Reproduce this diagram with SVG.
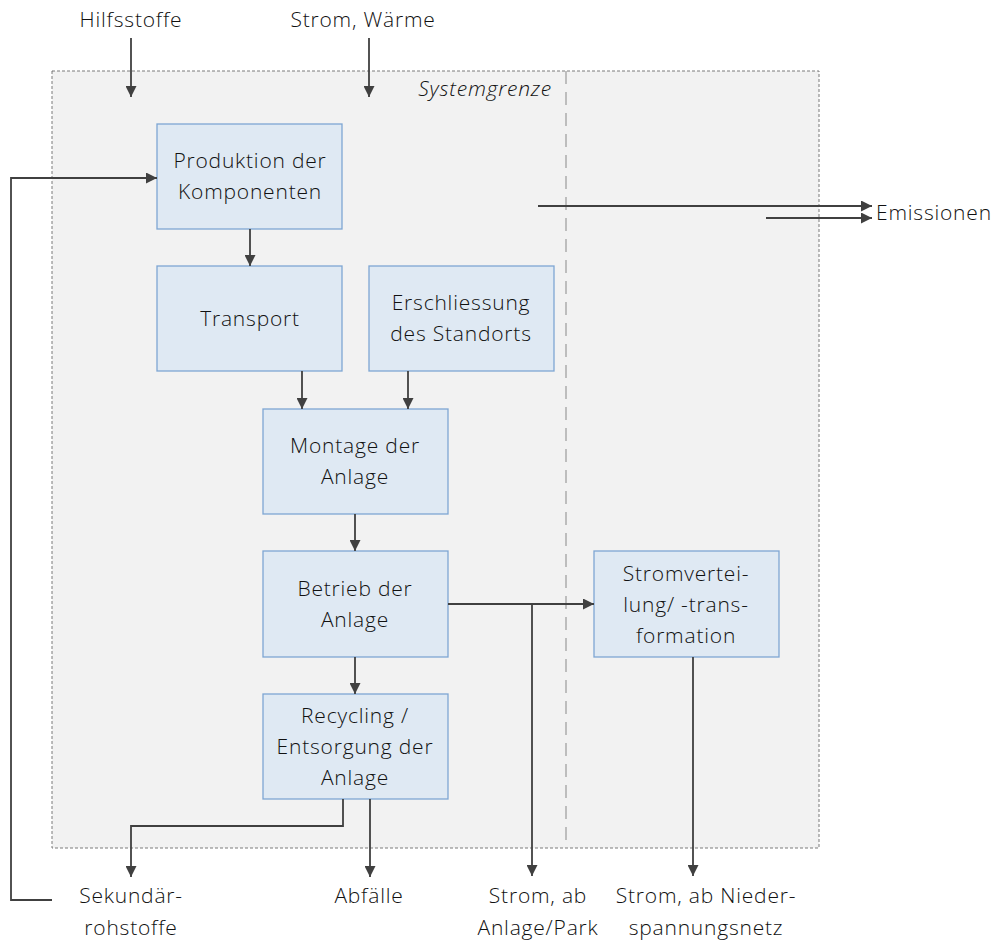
<svg xmlns="http://www.w3.org/2000/svg" width="996" height="940" viewBox="0 0 996 940">
<style>
text{font-family:"Open Sans","Noto Sans","Liberation Sans",sans-serif;font-size:21px;fill:#111;font-weight:300;letter-spacing:0.8px;text-anchor:middle}
.box{fill:#dfe9f3;stroke:#7ea6d3;stroke-width:1.3}
.c{fill:none;stroke:#404040;stroke-width:1.8}
</style>
<defs>
<marker id="a" viewBox="0 0 10 10" refX="10" refY="5" markerWidth="11" markerHeight="11" markerUnits="userSpaceOnUse" orient="auto"><path d="M0,0L10,5L0,10z" fill="#404040"/></marker>
</defs>
<rect width="996" height="940" fill="#fff"/>
<g id="systemgrenze">
<rect x="52" y="71" width="767" height="777" fill="#f2f2f2" stroke="#7a7a7a" stroke-width="1" stroke-dasharray="3,2"/>
<line x1="566" y1="71" x2="566" y2="848" stroke="#bdbdbd" stroke-width="2" stroke-dasharray="13,8"/>
<text x="552" y="96" style="font-style:italic;text-anchor:end">Systemgrenze</text>
</g>
<g id="n1"><rect class="box" x="157" y="124" width="185" height="105"/><text x="250" y="168">Produktion der</text><text x="250" y="199">Komponenten</text></g>
<g id="n2"><rect class="box" x="157" y="266" width="185" height="105"/><text x="250" y="326">Transport</text></g>
<g id="n3"><rect class="box" x="369" y="266" width="185" height="105"/><text x="461" y="310">Erschliessung</text><text x="461" y="341">des Standorts</text></g>
<g id="n4"><rect class="box" x="263" y="409" width="185" height="105"/><text x="355" y="453">Montage der</text><text x="355" y="484">Anlage</text></g>
<g id="n5"><rect class="box" x="263" y="551" width="185" height="106"/><text x="355" y="596">Betrieb der</text><text x="355" y="627">Anlage</text></g>
<g id="n6"><rect class="box" x="263" y="694" width="185" height="105"/><text x="355" y="723">Recycling /</text><text x="355" y="754">Entsorgung der</text><text x="355" y="785">Anlage</text></g>
<g id="n7"><rect class="box" x="594" y="551" width="185" height="106"/><text x="686" y="581">Stromvertei-</text><text x="686" y="612">lung/ -trans-</text><text x="686" y="643">formation</text></g>
<g id="labels">
<text x="131" y="27">Hilfsstoffe</text>
<text x="363" y="27">Strom, Wärme</text>
<text x="876" y="220" style="text-anchor:start">Emissionen</text>
<text x="131" y="903">Sekundär-</text><text x="131" y="935">rohstoffe</text>
<text x="369" y="903">Abfälle</text>
<text x="538" y="903">Strom, ab</text><text x="538" y="935">Anlage/Park</text>
<text x="706" y="903">Strom, ab Nieder-</text><text x="706" y="935">spannungsnetz</text>
</g>
<g id="connectors">
<path class="c" d="M131,38V97" marker-end="url(#a)"/>
<path class="c" d="M369,38V97" marker-end="url(#a)"/>
<path class="c" d="M250,229V266" marker-end="url(#a)"/>
<path class="c" d="M302,371V409" marker-end="url(#a)"/>
<path class="c" d="M408,371V409" marker-end="url(#a)"/>
<path class="c" d="M355,514V551" marker-end="url(#a)"/>
<path class="c" d="M355,657V694" marker-end="url(#a)"/>
<path class="c" d="M448,604H594" marker-end="url(#a)"/>
<path class="c" d="M532,604V876" marker-end="url(#a)"/>
<path class="c" d="M693,657V876" marker-end="url(#a)"/>
<path class="c" d="M343,799V826H131V877" marker-end="url(#a)"/>
<path class="c" d="M370,799V877" marker-end="url(#a)"/>
<path class="c" d="M52,900H11V178H157" marker-end="url(#a)"/>
<path class="c" d="M538,206H872" marker-end="url(#a)"/>
<path class="c" d="M766,218H872" marker-end="url(#a)"/>
</g>
</svg>
